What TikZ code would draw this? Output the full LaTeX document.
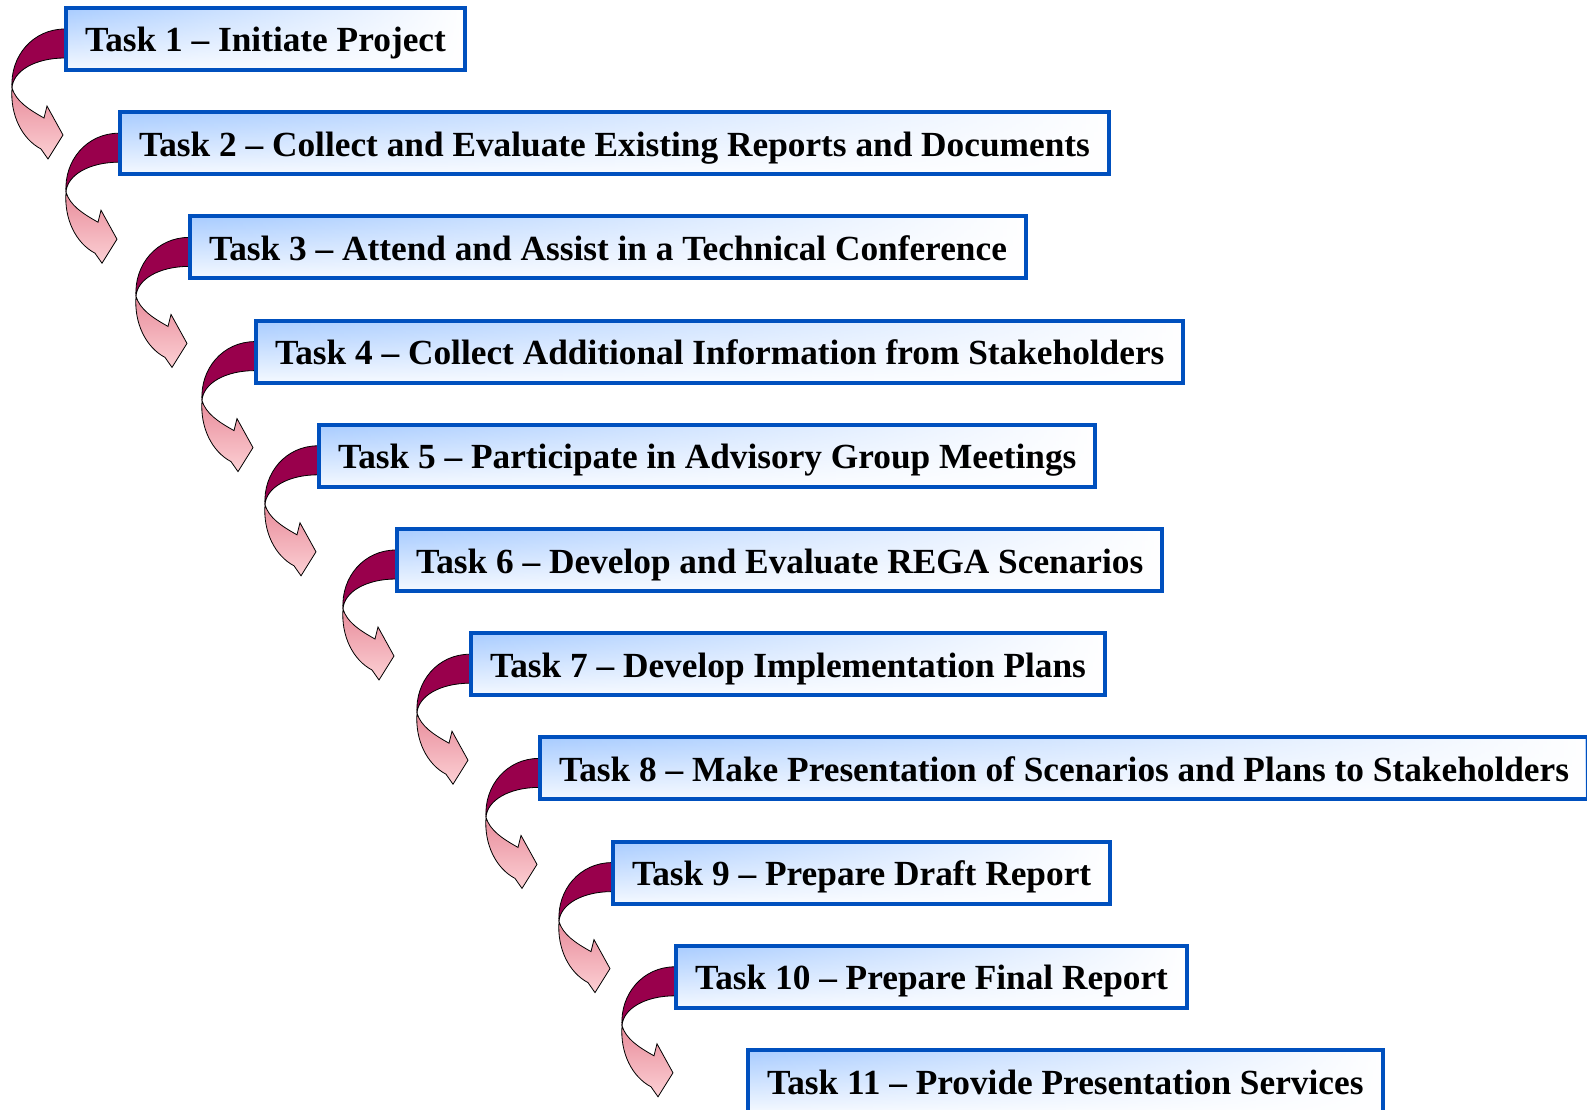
\documentclass[tikz,border=0pt]{standalone}
\usepackage{fontspec}
\setmainfont{Liberation Serif}
\usetikzlibrary{fadings,backgrounds}

\definecolor{taskblue}{RGB}{0,80,190}
\definecolor{boxblue}{RGB}{168,204,255}
\definecolor{ribbondark}{RGB}{153,0,76}
\definecolor{ribbonpink}{RGB}{232,140,155}
\definecolor{ribbonlight}{RGB}{252,208,212}

\begin{document}
\begin{tikzpicture}[x=1pt,y=-1pt,
  task/.style={rectangle,draw=taskblue,line width=4pt,anchor=west,
  top color=boxblue,bottom color=boxblue!12!white,
  path picture={\fill[white,path fading=west]
    (path picture bounding box.south west) rectangle (path picture bounding box.north east);},
  font=\fontsize{35.3pt}{40pt}\selectfont\bfseries,
  minimum height=62pt,inner xsep=19pt,text height=28pt,text depth=2pt},
  twist/.pic={
    %dark back of the ribbon, leaving the box
    \fill[ribbondark,draw=black,line width=0.8pt]
      (1,-10) .. controls (-31,-10) and (-54,17) .. (-52,49)
      .. controls (-51,32) and (-29,19) .. (1,19) -- cycle;
    %pink front with the head
    \draw[top color=ribbonpink,bottom color=ribbonlight,line width=0.8pt]
      (-52,49) .. controls (-54,76) and (-42,100) .. (-23,110)
      -- (-16,120) -- (-1,96) -- (-17,67) -- (-20,79)
      .. controls (-36,70) and (-48,62) .. (-52,49) -- cycle;
  }]

  \useasboundingbox (0,0) rectangle (1587,1110);

  \node[task] (t1) at (64,39) {Task 1 -- Initiate Project};
  \node[task] (t2) at (118,143.2) {Task 2 -- Collect and Evaluate Existing Reports and Documents};
  \node[task] (t3) at (188,247.4) {Task 3 -- Attend and Assist in a Technical Conference};
  \node[task] (t4) at (254,351.6) {Task 4 -- Collect Additional Information from Stakeholders};
  \node[task] (t5) at (317,455.8) {Task 5 -- Participate in Advisory Group Meetings};
  \node[task] (t6) at (395,560) {Task 6 -- Develop and Evaluate REGA Scenarios};
  \node[task] (t7) at (469,664.2) {Task 7 -- Develop Implementation Plans};
  \node[task] (t8) at (538,768.4) {Task 8 -- Make Presentation of Scenarios and Plans to Stakeholders};
  \node[task] (t9) at (611,872.6) {Task 9 -- Prepare Draft Report};
  \node[task] (t10) at (674,976.8) {Task 10 -- Prepare Final Report};
  \node[task] (t11) at (746,1081) {Task 11 -- Provide Presentation Services};

  %ribbons from each task down to the next one
  \begin{scope}[on background layer]
    \foreach \i in {1,...,10}
      \pic at (t\i.west) {twist};
  \end{scope}

\end{tikzpicture}
\end{document}
